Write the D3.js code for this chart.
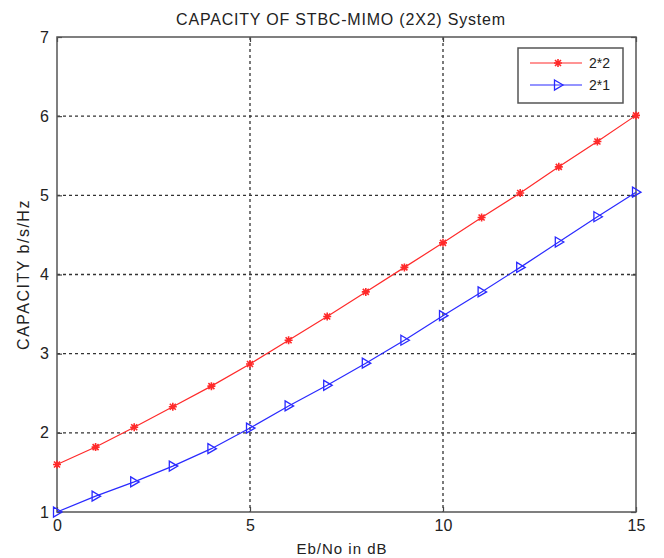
<!DOCTYPE html>
<html>
<head>
<meta charset="utf-8">
<script src="https://cdn.jsdelivr.net/npm/d3@7"></script>
<style>
  body { margin: 0; background: #fff; }
  svg { display: block; font-family: "Liberation Sans", Arial, sans-serif; }
</style>
</head>
<body>
<div id="chart"></div>
<script>
const snr = [0, 1, 2, 3, 4, 5, 6, 7, 8, 9, 10, 11, 12, 13, 14, 15];
const cap22 = [1.60, 1.82, 2.07, 2.33, 2.59, 2.87, 3.17, 3.47, 3.78, 4.09, 4.40, 4.72, 5.03, 5.36, 5.68, 6.01];
const cap21 = [1.00, 1.20, 1.38, 1.58, 1.80, 2.06, 2.34, 2.60, 2.88, 3.17, 3.48, 3.78, 4.09, 4.41, 4.73, 5.04];
const xTicks = [0, 5, 10, 15];
const yTicks = [1, 2, 3, 4, 5, 6, 7];
const seriesNames = ['2*2', '2*1'];

function drawChart() {
    const width = 664;
    const height = 558;
    const margin = { top: 37, right: 28, bottom: 46, left: 57 };
    const usableArea = {
        top: margin.top,
        right: width - margin.right,
        bottom: height - margin.bottom,
        left: margin.left,
    };
    const svg = d3.select('#chart').append('svg').attr('width', width).attr('height', height);

    const xScale = d3.scaleLinear().domain([0, 15]).range([usableArea.left, usableArea.right]);
    const yScale = d3.scaleLinear().domain([1, 7]).range([usableArea.bottom, usableArea.top]);

    // dotted grid
    const grid = svg.append('g').attr('class', 'grid');
    grid.selectAll('.gx').data(xTicks.slice(1, -1)).join('line')
        .attr('x1', (d) => xScale(d)).attr('x2', (d) => xScale(d))
        .attr('y1', usableArea.top).attr('y2', usableArea.bottom)
        .attr('stroke', '#333').attr('stroke-width', 1.3).attr('stroke-dasharray', '3,3');
    grid.selectAll('.gy').data(yTicks.slice(1, -1)).join('line')
        .attr('x1', usableArea.left).attr('x2', usableArea.right)
        .attr('y1', (d) => yScale(d)).attr('y2', (d) => yScale(d))
        .attr('stroke', '#333').attr('stroke-width', 1.3).attr('stroke-dasharray', '3,3');

    // axes, matlab style (ticks inside, on all sides)
    const axisStyle = (g) => {
        g.select('.domain').remove();
        g.selectAll('line').attr('stroke', '#444').attr('stroke-width', 1.2);
        g.selectAll('text').attr('fill', '#222').style('font-size', '16px');
    };
    svg.append('g').attr('transform', `translate(0,${usableArea.bottom})`)
        .call(d3.axisBottom(xScale).tickValues(xTicks).tickSize(-5).tickPadding(8).tickFormat(d3.format('d')))
        .call(axisStyle);
    svg.append('g').attr('transform', `translate(0,${usableArea.top})`)
        .call(d3.axisTop(xScale).tickValues(xTicks).tickSize(-5).tickFormat(''))
        .call(axisStyle);
    svg.append('g').attr('transform', `translate(${usableArea.left},0)`)
        .call(d3.axisLeft(yScale).tickValues(yTicks).tickSize(-5).tickPadding(8).tickFormat(d3.format('d')))
        .call(axisStyle);
    svg.append('g').attr('transform', `translate(${usableArea.right},0)`)
        .call(d3.axisRight(yScale).tickValues(yTicks).tickSize(-5).tickFormat(''))
        .call(axisStyle);

    svg.append('rect')
        .attr('x', usableArea.left).attr('y', usableArea.top)
        .attr('width', usableArea.right - usableArea.left)
        .attr('height', usableArea.bottom - usableArea.top)
        .attr('fill', 'none').attr('stroke', '#555').attr('stroke-width', 1.5);

    const line = d3.line().x((d) => xScale(d[0])).y((d) => yScale(d[1]));
    const pts22 = snr.map((s, i) => [s, cap22[i]]);
    const pts21 = snr.map((s, i) => [s, cap21[i]]);

    svg.append('path').datum(pts22).attr('d', line).attr('fill', 'none').attr('stroke', '#ff2a2a').attr('stroke-width', 1.2);
    svg.append('path').datum(pts21).attr('d', line).attr('fill', 'none').attr('stroke', '#2a2aff').attr('stroke-width', 1.2);

    const star = (g, color) => {
        g.append('path').attr('d', 'M-4,0L4,0M0,-4L0,4M-3,-3L3,3M-3,3L3,-3')
            .attr('stroke', color).attr('stroke-width', 1.6);
    };
    const tri = (g, color) => {
        g.append('path').attr('d', 'M-3.5,-5L5,0L-3.5,5Z').attr('fill', 'none').attr('stroke', color).attr('stroke-width', 1.3);
    };

    svg.append('g').selectAll('g').data(pts22).join('g')
        .attr('transform', (d) => `translate(${xScale(d[0])},${yScale(d[1])})`)
        .each(function () { star(d3.select(this), '#ff2a2a'); });
    svg.append('g').selectAll('g').data(pts21).join('g')
        .attr('transform', (d) => `translate(${xScale(d[0])},${yScale(d[1])})`)
        .each(function () { tri(d3.select(this), '#2a2aff'); });

    // legend
    const legend = svg.append('g').attr('transform', 'translate(518,48)');
    legend.append('rect').attr('width', 105).attr('height', 55).attr('fill', '#fff').attr('stroke', '#555').attr('stroke-width', 1.5);
    const colors = ['#ff2a2a', '#2a2aff'];
    const markers = [star, tri];
    seriesNames.forEach((name, i) => {
        const y = 15 + i * 22;
        legend.append('line').attr('x1', 12).attr('x2', 64).attr('y1', y).attr('y2', y).attr('stroke', colors[i]).attr('stroke-width', 1.2);
        markers[i](legend.append('g').attr('transform', `translate(40,${y})`), colors[i]);
        legend.append('text').attr('x', 71).attr('y', y + 5).text(name).style('font-size', '14px').attr('fill', '#222');
    });

    svg.append('text').attr('x', 341).attr('y', 25).attr('text-anchor', 'middle')
        .style('font-size', '16px').style('letter-spacing', '0.8px').attr('fill', '#222')
        .text('CAPACITY OF STBC-MIMO (2X2) System');
    svg.append('text').attr('x', 342).attr('y', 554).attr('text-anchor', 'middle')
        .style('font-size', '15px').style('letter-spacing', '1px').attr('fill', '#222').text('Eb/No in dB');
    svg.append('text').attr('transform', `translate(29,${(usableArea.top + usableArea.bottom) / 2}) rotate(-90)`)
        .attr('text-anchor', 'middle').style('font-size', '16px').style('letter-spacing', '1.5px')
        .attr('fill', '#222').text('CAPACITY b/s/Hz');
}

document.addEventListener('DOMContentLoaded', drawChart);
</script>
</body>
</html>
